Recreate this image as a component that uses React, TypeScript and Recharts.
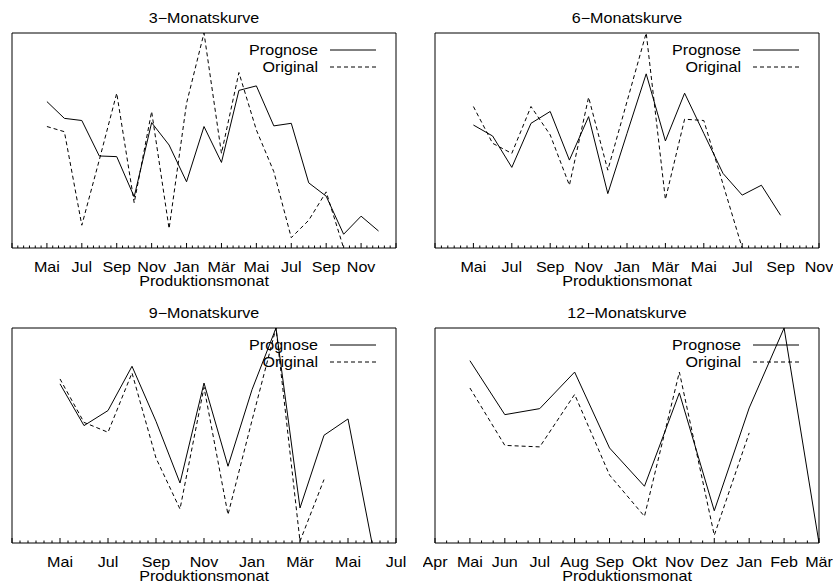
import React from "react";
import { LineChart, Line, XAxis, YAxis, ReferenceArea } from "recharts";

const FONT = '"Liberation Sans", Arial, Helvetica, sans-serif';
const STRETCH = 1.15; // gnuplot text is a bit wider than the browser's

// Werte relativ zur y-Skala (0 = unterer Rand, 100 = oberer Rand)
// 3-Monatskurve: x = Monate ab März, Reihen beginnen im Mai
const prognose3 = [68.1, 60.3, 59.3, 42.8, 42.5, 23.8, 58.3, 47.9, 30.8, 56.5, 39.8, 73.3, 75.4, 56.8, 58.0, 30.3, 24.1, 6.4, 14.8, 7.9];
const original3 = [56.5, 54.1, 10.6, 40.9, 72.0, 21.0, 63.5, 9.0, 67.3, 100, 44.0, 81.6, 54.9, 35.5, 4.8, 12.9, 26.1, 0];
const labels3 = ["Mai", "Jul", "Sep", "Nov", "Jan", "Mär", "Mai", "Jul", "Sep", "Nov"];

// 6-Monatskurve
const prognose6 = [57.2, 52.1, 37.5, 58.0, 63.5, 40.9, 61.1, 25.3, 53.3, 81.0, 49.8, 72.0, 53.3, 34.7, 24.6, 29.2, 15.2];
const original6 = [65.8, 48.7, 44.0, 65.8, 52.6, 29.2, 70.1, 36.2, 68.1, 100, 22.6, 59.9, 59.3, 29.7, 0];
const labels6 = ["Mai", "Jul", "Sep", "Nov", "Jan", "Mär", "Mai", "Jul", "Sep", "Nov"];

// 9-Monatskurve
const prognose9 = [74.0, 54.6, 61.6, 82.2, 56.6, 27.9, 74.4, 35.7, 71.3, 100, 16.3, 50.1, 57.7, 0];
const original9 = [76.3, 56.1, 51.5, 79.1, 39.5, 15.8, 72.4, 13.2, 57.0, 100, 0.8, 29.5];
const labels9 = ["Mai", "Jul", "Sep", "Nov", "Jan", "Mär", "Mai", "Jul"];

// 12-Monatskurve: x = Monate ab April
const prognose12 = [84.8, 59.7, 62.5, 79.5, 44.2, 26.4, 69.8, 15.0, 62.8, 100, 0];
const original12 = [72.1, 45.4, 44.7, 69.1, 31.6, 12.4, 79.5, 3.6, 51.2];
const labels12 = ["Apr", "Mai", "Jun", "Jul", "Aug", "Sep", "Okt", "Nov", "Dez", "Jan", "Feb", "Mär"];

const W = 410;
const H = 290;
const BOX = { left: 12, right: 396, top: 33, bottom: 248 };

type Panel = {
  title: string;
  span: number; // months shown on the x axis
  dataStart: number;
  labelStart: number;
  step: number; // months between labelled ticks
  labels: string[];
  prognose: number[];
  original: number[];
  left: number;
  top: number;
};

const panels: Panel[] = [
  { title: "3−Monatskurve", span: 22, dataStart: 2, labelStart: 2, step: 2, labels: labels3, prognose: prognose3, original: original3, left: 0, top: 0 },
  { title: "6−Monatskurve", span: 20, dataStart: 2, labelStart: 2, step: 2, labels: labels6, prognose: prognose6, original: original6, left: 423, top: 0 },
  { title: "9−Monatskurve", span: 16, dataStart: 2, labelStart: 2, step: 2, labels: labels9, prognose: prognose9, original: original9, left: 0, top: 295 },
  { title: "12−Monatskurve", span: 11, dataStart: 1, labelStart: 0, step: 1, labels: labels12, prognose: prognose12, original: original12, left: 423, top: 295 },
];

function MonthTick(props: any) {
  const { x, y, payload, panel, side } = props;
  const k = Math.round(payload.value * 3);
  const major = k % (3 * panel.step) === 0;
  const len = major ? 5 : 2.5;
  const dir = side === "bottom" ? -1 : 1;
  let label: string | null = null;
  if (side === "bottom" && major) {
    const idx = (k / 3 - panel.labelStart) / panel.step;
    if (Number.isInteger(idx) && idx >= 0 && idx < panel.labels.length) label = panel.labels[idx];
  }
  return (
    <g>
      <line x1={x} x2={x} y1={y} y2={y + dir * len} stroke="#000" strokeWidth={1} />
      {label && (
        <text
          transform={`translate(${x},${y + 24}) scale(${STRETCH},1)`}
          textAnchor="middle"
          fontSize={14}
          fontFamily={FONT}
          fill="#000"
        >
          {label}
        </text>
      )}
    </g>
  );
}

function Txt({ x, y, anchor, children }: { x: number; y: number; anchor: "start" | "middle" | "end"; children: React.ReactNode }) {
  return (
    <text transform={`translate(${x},${y}) scale(${STRETCH},1)`} textAnchor={anchor} fontSize={14} fontFamily={FONT} fill="#000">
      {children}
    </text>
  );
}

function PanelChart({ panel }: { panel: Panel }) {
  const rows = panel.prognose.map((p, i) => ({
    m: panel.dataStart + i,
    prognose: p,
    original: panel.original[i],
  }));
  const ticks = Array.from({ length: panel.span * 3 + 1 }, (_, i) => i / 3);
  const cx = (BOX.left + BOX.right) / 2;

  return (
    <div style={{ position: "absolute", left: panel.left, top: panel.top, width: W, height: H }}>
      <LineChart
        width={W}
        height={H}
        data={rows}
        margin={{ top: BOX.top, right: W - BOX.right, bottom: 0, left: BOX.left }}
      >
        <XAxis
          dataKey="m"
          type="number"
          domain={[0, panel.span]}
          ticks={ticks}
          interval={0}
          height={H - BOX.bottom}
          tickSize={0}
          tickMargin={0}
          axisLine={false}
          tickLine={false}
          allowDataOverflow
          tick={(p: any) => <MonthTick {...p} panel={panel} side="bottom" />}
        />
        <XAxis
          xAxisId="top"
          orientation="top"
          type="number"
          domain={[0, panel.span]}
          ticks={ticks}
          interval={0}
          height={0}
          tickSize={0}
          tickMargin={0}
          axisLine={false}
          tickLine={false}
          allowDataOverflow
          tick={(p: any) => <MonthTick {...p} panel={panel} side="top" />}
        />
        <YAxis hide width={0} domain={[0, 100]} allowDataOverflow />
        <ReferenceArea x1={0} x2={panel.span} y1={0} y2={100} fill="none" stroke="#000" strokeWidth={1} />
        <Line
          dataKey="prognose"
          stroke="#000"
          strokeWidth={1}
          dot={false}
          activeDot={false}
          isAnimationActive={false}
        />
        <Line
          dataKey="original"
          stroke="#000"
          strokeWidth={1}
          strokeDasharray="4 3"
          dot={false}
          activeDot={false}
          isAnimationActive={false}
        />
      </LineChart>
      <svg width={W} height={H} style={{ position: "absolute", left: 0, top: 0, pointerEvents: "none" }}>
        <Txt x={cx} y={22.5} anchor="middle">{panel.title}</Txt>
        <Txt x={318} y={55} anchor="end">Prognose</Txt>
        <line x1={330} x2={376} y1={50} y2={50} stroke="#000" strokeWidth={1} />
        <Txt x={318} y={72} anchor="end">Original</Txt>
        <line x1={330} x2={376} y1={67} y2={67} stroke="#000" strokeWidth={1} strokeDasharray="4 3" />
        <Txt x={cx} y={285.5} anchor="middle">Produktionsmonat</Txt>
      </svg>
    </div>
  );
}

export default function App() {
  return (
    <div style={{ position: "absolute", left: 0, top: 0, width: 833, height: 585, background: "#fff" }}>
      {panels.map((p) => (
        <PanelChart key={p.title} panel={p} />
      ))}
    </div>
  );
}
